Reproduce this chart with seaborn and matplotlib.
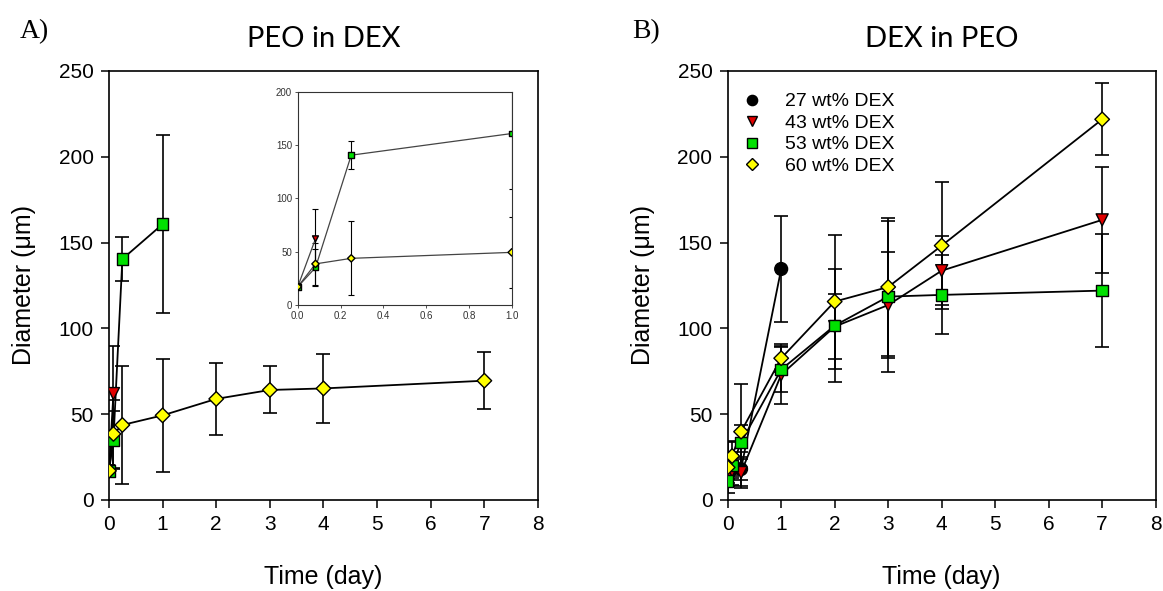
import numpy as np
import pandas as pd
import matplotlib
matplotlib.use("Agg")
import matplotlib.pyplot as plt
import seaborn as sns

# ---------------- data ----------------
series_names = ["27 wt% DEX", "43 wt% DEX", "53 wt% DEX", "60 wt% DEX"]

# Panel A: PEO in DEX
A43_t = [0, 0.083]
A43_d = [17, 62]
A43_e = [2, 28]
A53_t = [0, 0.083, 0.25, 1]
A53_d = [17, 35, 140.4, 160.7]
A53_e = [2, 17, 13, 52]
A60_t = [0, 0.083, 0.25, 1, 2, 3, 4, 7]
A60_d = [17, 38.5, 43.7, 49.3, 58.9, 64.1, 65, 69.5]
A60_e = [2, 20, 34.6, 33, 21, 13.7, 20, 16.5]

# Panel B: DEX in PEO
B27_t = [0, 0.083, 0.25, 1]
B27_d = [15, 18, 18, 134.6]
B27_e = [3, 5, 10, 31]
B43_t = [0, 0.083, 0.25, 1, 2, 3, 4, 7]
B43_d = [14, 17, 16, 73, 101, 113.6, 133.6, 163.2]
B43_e = [4, 8, 9, 17, 19, 31, 20, 31]
B53_t = [0, 0.083, 0.25, 1, 2, 3, 4, 7]
B53_d = [11, 20, 33.6, 76, 101.6, 118.5, 119.5, 122]
B53_e = [3, 6, 10, 13, 33, 44, 23, 33]
B60_t = [0, 0.083, 0.25, 1, 2, 3, 4, 7]
B60_d = [19, 25.6, 39.8, 82.6, 115.6, 124.1, 148.2, 221.8]
B60_e = [15, 9, 28, 8, 39, 40, 37, 21]

x_ticks = [0, 1, 2, 3, 4, 5, 6, 7, 8]
y_ticks = [0, 50, 100, 150, 200, 250]
inset_x_ticks = [0.0, 0.2, 0.4, 0.6, 0.8, 1.0]
inset_y_ticks = [0, 50, 100, 150, 200]

colors = {"27 wt% DEX": "#000000", "43 wt% DEX": "#e00000",
          "53 wt% DEX": "#00e000", "60 wt% DEX": "#ffff00"}
markers = {"27 wt% DEX": "o", "43 wt% DEX": "v",
           "53 wt% DEX": "s", "60 wt% DEX": "D"}
sizes_main = {"27 wt% DEX": 85, "43 wt% DEX": 75,
              "53 wt% DEX": 70, "60 wt% DEX": 55}
sizes_inset = {"27 wt% DEX": 18, "43 wt% DEX": 18,
               "53 wt% DEX": 16, "60 wt% DEX": 14}


def frame(parts):
    rows = []
    for name, t, d, e in parts:
        for ti, di, ei in zip(t, d, e):
            rows.append({"series": name, "t": ti, "d": di, "e": ei})
    return pd.DataFrame(rows)


dfA = frame([("43 wt% DEX", A43_t, A43_d, A43_e),
             ("53 wt% DEX", A53_t, A53_d, A53_e),
             ("60 wt% DEX", A60_t, A60_d, A60_e)])
dfB = frame([("27 wt% DEX", B27_t, B27_d, B27_e),
             ("43 wt% DEX", B43_t, B43_d, B43_e),
             ("53 wt% DEX", B53_t, B53_d, B53_e),
             ("60 wt% DEX", B60_t, B60_d, B60_e)])

sns.set_theme(style="ticks")
plt.rcParams["font.family"] = ["Liberation Sans", "DejaVu Sans"]
plt.rcParams["text.color"] = "black"
plt.rcParams["axes.labelcolor"] = "black"
plt.rcParams["xtick.color"] = "black"
plt.rcParams["ytick.color"] = "black"

fig = plt.figure(figsize=(11.63, 5.91), dpi=100)
axA = fig.add_axes([0.0937, 0.154, 0.3689, 0.726])
axB = fig.add_axes([0.6257, 0.154, 0.368, 0.726])
axI = fig.add_axes([0.256, 0.484, 0.184, 0.361])


def draw(ax, df, lw, elw, cap, sizes, line_color, legend):
    for name in series_names:
        sub = df[df["series"] == name]
        if sub.empty:
            continue
        ax.errorbar(sub["t"], sub["d"], yerr=sub["e"], fmt="none",
                    ecolor="black", elinewidth=elw, capsize=cap,
                    capthick=elw, zorder=2)
    sns.lineplot(data=df, x="t", y="d", units="series", estimator=None,
                 color=line_color, lw=lw, sort=False, ax=ax, legend=False,
                 zorder=3)
    present = [n for n in series_names if n in set(df["series"])]
    sns.scatterplot(data=df, x="t", y="d", hue="series", style="series",
                    hue_order=present, style_order=present,
                    palette=colors, markers=markers, size="series",
                    sizes=sizes, size_order=present,
                    edgecolor="black", linewidth=1.0, ax=ax,
                    legend=legend, zorder=4)


draw(axA, dfA, 1.3, 1.2, 5, sizes_main, "black", False)
draw(axB, dfB, 1.3, 1.2, 5, sizes_main, "black", "full")
draw(axI, dfA, 0.9, 0.8, 2.5, sizes_inset, "#444444", False)

for ax in (axA, axB):
    ax.set_xlim(0, 8)
    ax.set_ylim(0, 250)
    ax.set_xticks(x_ticks)
    ax.set_yticks(y_ticks)
    ax.set_xticklabels([str(v) for v in x_ticks], fontsize=15)
    ax.set_yticklabels([str(v) for v in y_ticks], fontsize=15)
    ax.tick_params(direction="out", length=6, width=1.1, pad=5,
                   colors="black", labelcolor="black")
    for sp in ax.spines.values():
        sp.set_visible(True)
        sp.set_linewidth(1.2)
        sp.set_color("black")
    ax.set_xlabel("Time (day)", fontsize=18, labelpad=22, color="black")
    ax.set_ylabel("Diameter (\u03bcm)", fontsize=18, labelpad=16,
                  color="black")
    ax.set_facecolor("white")

axA.set_title("PEO in DEX", fontsize=21, family="Lato", pad=17,
              color="black")
axB.set_title("DEX in PEO", fontsize=21, family="Lato", pad=17,
              color="black")
fig.text(0.017, 0.935, "A)", fontsize=20, family="Liberation Serif",
         color="black")
fig.text(0.544, 0.935, "B)", fontsize=20, family="Liberation Serif",
         color="black")

# inset
axI.set_xlim(0, 1)
axI.set_ylim(0, 200)
axI.set_xticks(inset_x_ticks)
axI.set_yticks(inset_y_ticks)
axI.set_xticklabels([f"{v:.1f}" for v in inset_x_ticks], fontsize=7)
axI.set_yticklabels([str(v) for v in inset_y_ticks], fontsize=7)
axI.tick_params(direction="out", length=2, width=0.6, pad=2,
                colors="#333333", labelcolor="#333333")
for sp in axI.spines.values():
    sp.set_visible(True)
    sp.set_linewidth(0.8)
    sp.set_color("#333333")
axI.set_xlabel("")
axI.set_ylabel("")
axI.set_facecolor("white")

# legend for panel B
handles, labels = axB.get_legend_handles_labels()
keep = [(h, l) for h, l in zip(handles, labels) if l in series_names]
leg = axB.legend([h for h, _ in keep], [l for _, l in keep],
                 loc="upper left", bbox_to_anchor=(-0.03, 0.99),
                 frameon=False, fontsize=14, handletextpad=0.7,
                 labelspacing=0.2, markerscale=0.8)
for txt in leg.get_texts():
    txt.set_color("black")

fig.savefig("out.png", dpi=100)
